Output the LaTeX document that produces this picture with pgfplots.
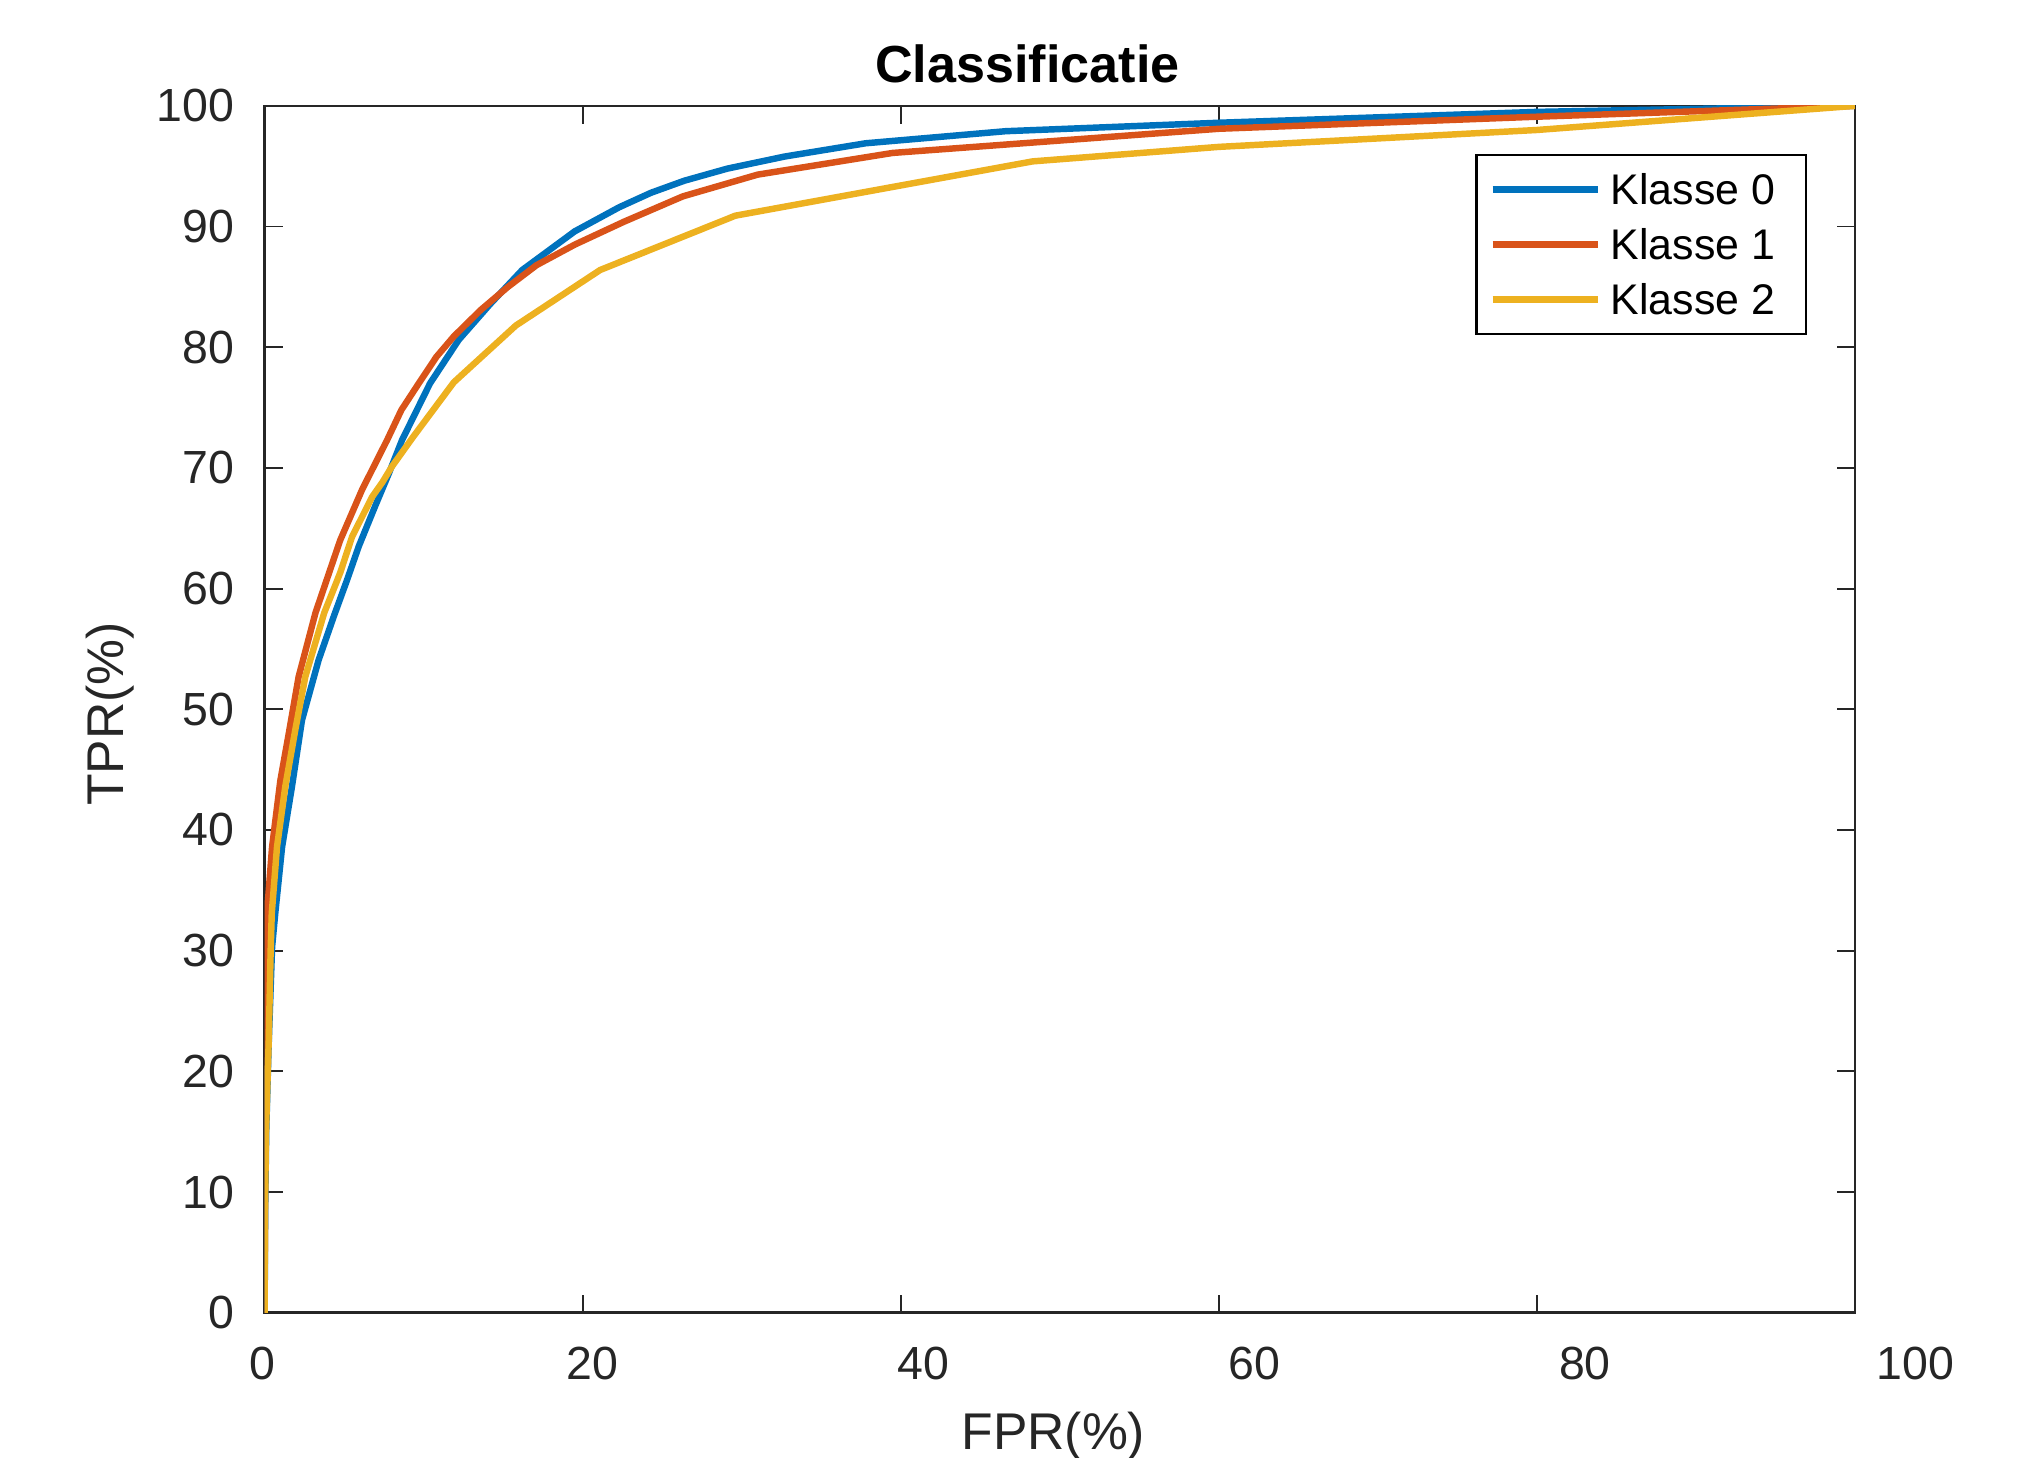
\documentclass[border=0pt]{standalone}
\usepackage{fontspec}
\setmainfont{Liberation Sans}
\usepackage{pgfplots}
\pgfplotsset{compat=1.18}

\definecolor{mblue}{rgb}{0,0.447,0.741}
\definecolor{morange}{rgb}{0.85,0.325,0.098}
\definecolor{myellow}{rgb}{0.929,0.694,0.125}
\definecolor{axgray}{rgb}{0.15,0.15,0.15}

\begin{document}
\begin{tikzpicture}
\useasboundingbox (-51.25pt,-28pt) rectangle (340.75pt,254.25pt);
\begin{axis}[
    at={(0,0)}, anchor=south west,
    scale only axis,
    width=308pt, height=233.75pt,
    xmin=0, xmax=100, ymin=0, ymax=100,
    xtick={0,20,...,100}, ytick={0,10,...,100},
    tick align=inside,
    major tick length=3.5pt,
    axis line style={axgray, line width=0.5pt},
    every tick/.style={axgray, line width=0.35pt},
    /pgf/number format/assume math mode=true,
    tick label style={font=\fontsize{9}{10}\selectfont, text=axgray},
    xticklabel style={inner ysep=0pt, yshift=-6.5pt, xshift=\ticknum*2.45pt-0.5pt},
    yticklabel style={inner xsep=0pt, xshift=-5.75pt},
    every axis title shift=0pt,
    title={Classificatie},
    title style={at={(axis description cs:0.4797,1)}, anchor=base, inner sep=0pt,
        yshift=4.5pt, font=\bfseries\fontsize{10.1}{12}\selectfont},
    xlabel={FPR(\%)},
    xlabel style={at={(axis description cs:0.496,0)}, anchor=north, inner sep=0pt,
        yshift=-19pt, font=\fontsize{10}{12}\selectfont, text=axgray},
    ylabel={TPR(\%)},
    ylabel style={at={(axis description cs:-0.0812,0.4963)}, anchor=south, inner sep=0pt,
        font=\fontsize{10}{12}\selectfont, text=axgray},
    legend image code/.code={\draw[#1] (0pt,0pt) -- (20.5pt,0pt);},
    legend style={at={(axis description cs:1,1)}, anchor=north east,
        xshift=-9.25pt, yshift=-9.25pt, draw=black, line width=0.4pt,
        inner xsep=2.5pt, inner ysep=3.75pt, row sep=4.65pt,
        font=\fontsize{8.3}{10}\selectfont,
        nodes={inner sep=0pt, text height=6pt, text depth=0pt},
        cells={anchor=west}},
]
\addplot[mblue, line width=1.25pt] coordinates {
(0,0) (0.03,8) (0.1,15) (0.25,22) (0.47,30.3) (0.67,33.1) (1.1,38.6)
(1.72,43.6) (2.35,49.1) (3.4,54.1) (4.35,57.7) (5.18,60.7) (5.92,63.5)
(6.94,66.8) (7.8,69.5) (8.64,72.3) (10.4,77) (12.2,80.6) (14.2,83.6)
(16.2,86.4) (19.5,89.6) (22.3,91.6) (24.3,92.8) (26.4,93.8) (29.1,94.8)
(32.7,95.8) (37.8,96.9) (46.6,97.9) (60,98.6) (80,99.5) (100,100)
};
\addlegendentry{\hspace{1.75pt}Klasse 0\kern3.5pt\null}
\addplot[morange, line width=1.25pt] coordinates {
(0,0) (0.02,10) (0.03,20) (0.05,29.2) (0.15,33.1) (0.47,38.6) (0.99,44.1)
(1.52,48.0) (2.14,52.7) (3.2,58.0) (4.75,64.0) (6.13,68.2)
(7.7,72.3) (8.6,74.8) (9.69,77.0) (10.8,79.2) (11.9,80.9) (13.6,83.1)
(15.3,85.0) (17.1,86.8) (19.5,88.5) (22.6,90.4) (26.3,92.5) (31.0,94.3)
(39.5,96.1) (60,98.1) (80,99.1) (100,100)
};
\addlegendentry{\hspace{1.75pt}Klasse 1\kern3.5pt\null}
\addplot[myellow, line width=1.25pt] coordinates {
(0,0) (0.02,8) (0.09,15.1) (0.26,22.6) (0.38,30) (0.45,33.1) (0.78,38.6)
(1.3,43.6) (1.93,48.3) (2.56,52.7) (3.75,58.0) (4.75,61.3) (5.5,64.3)
(6.76,67.6) (7.4,68.8) (8.0,70.1) (9.3,72.5) (11.9,77.1) (15.8,81.8)
(21.1,86.4) (29.6,90.9) (48.3,95.4) (60,96.6) (80,98.0) (100,100)
};
\addlegendentry{\hspace{1.75pt}Klasse 2\kern3.5pt\null}
\end{axis}
\end{tikzpicture}
\end{document}
